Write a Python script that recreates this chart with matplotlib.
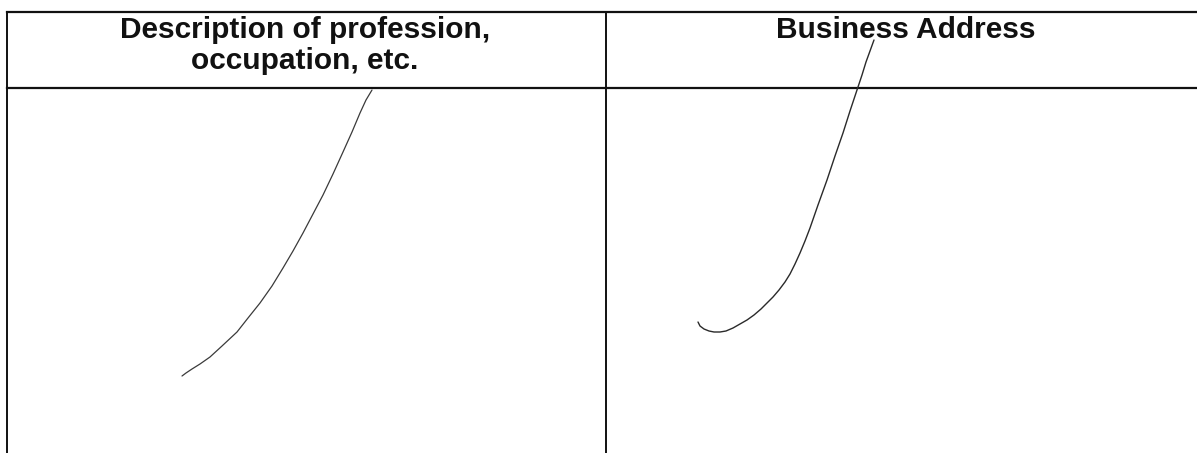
import matplotlib.pyplot as plt

# header cells of the form table
headers = ['Description of profession,\noccupation, etc.', 'Business Address']
header_x = [305, 906]

# table rules (pixel coords of the scanned page)
col_edges = [7, 606]
top_rule = 12
header_rule = 88

# handwritten strokes, points
stroke1_x = [182, 186, 192, 200, 210, 222, 237, 248, 260, 272, 283, 293, 303, 313, 323, 333, 343, 352, 360, 366, 372]
stroke1_y = [376, 373, 369, 364, 357, 346, 332, 318, 303, 286, 268, 251, 233, 214, 195, 174, 152, 132, 113, 100, 90]
stroke2_x = [698, 700, 704, 709, 714, 720, 726, 733, 740, 747, 754, 761, 767, 773, 779, 785, 790, 795, 800, 805, 810, 818, 827, 835, 843, 850, 857, 862, 866, 870, 874]
stroke2_y = [322, 326, 329, 331, 332, 332, 331, 328, 324, 320, 315, 309, 303, 297, 290, 282, 274, 264, 253, 241, 228, 205, 180, 156, 133, 111, 90, 75, 62, 51, 40]

fig = plt.figure(figsize=(11.97, 4.53), dpi=100)
ax = fig.add_axes([0, 0, 1, 1])
ax.set_xlim(0, 1197)
ax.set_ylim(453, 0)
ax.axis('off')

# rules
ax.plot([col_edges[0], 1197], [top_rule, top_rule], color='#111111', lw=1.6)
ax.plot([col_edges[0], 1197], [header_rule, header_rule], color='#111111', lw=1.6)
for x in col_edges:
    ax.plot([x, x], [top_rule, 453], color='#111111', lw=1.4)

# header text
for x, txt in zip(header_x, headers):
    ax.text(x, 16, txt, ha='center', va='top', fontsize=21.5,
            fontweight='bold', family='Liberation Sans', linespacing=1.12,
            color='#111111')

# pen strokes
ax.plot(stroke1_x, stroke1_y, color='#3a3a3a', lw=0.9, solid_capstyle='round')
ax.plot(stroke2_x, stroke2_y, color='#2a2a2a', lw=1.0, solid_capstyle='round')

fig.savefig('out.png', dpi=100, facecolor='white')
